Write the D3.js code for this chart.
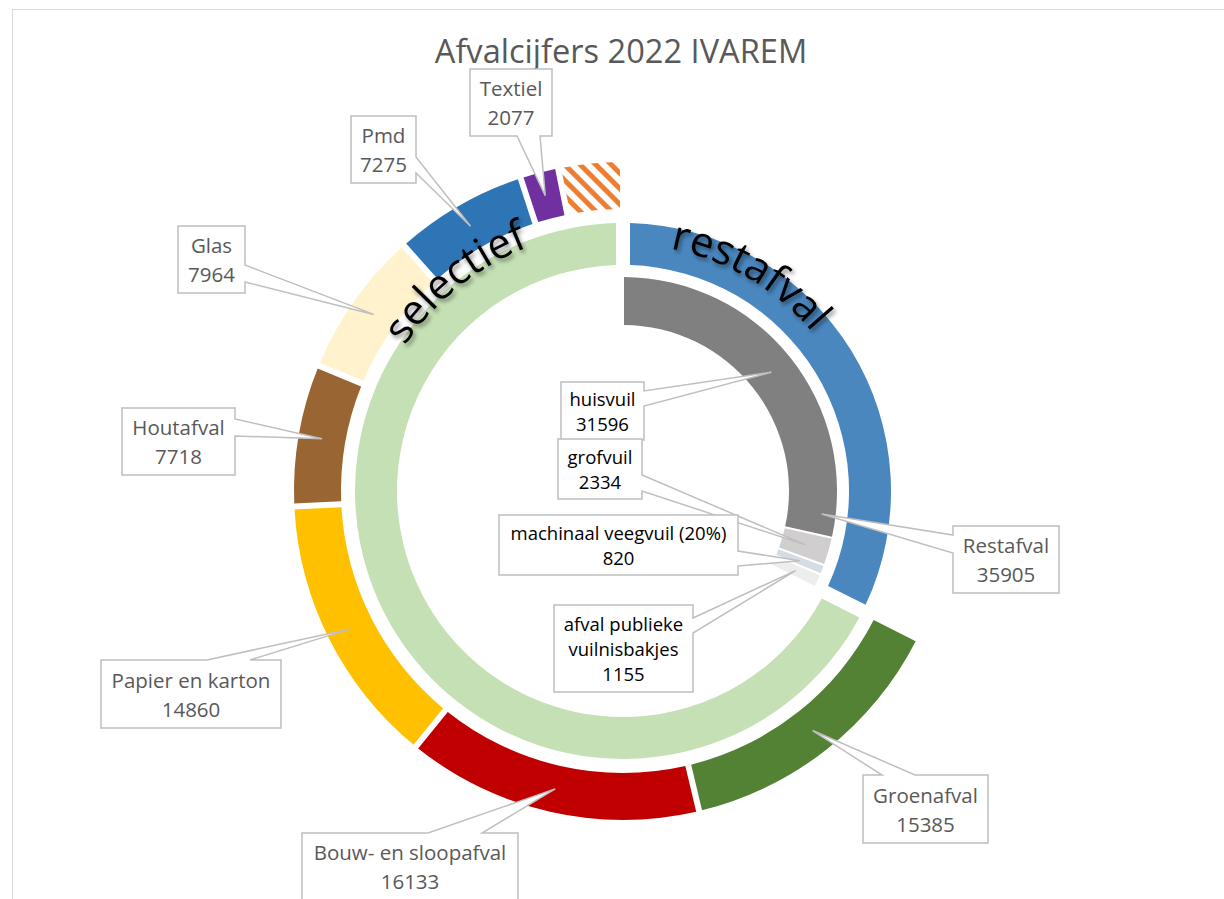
<!DOCTYPE html>
<html lang="nl">
<head>
<meta charset="UTF-8">
<title>Afvalcijfers 2022 IVAREM</title>
<script src="https://cdnjs.cloudflare.com/ajax/libs/d3/7.8.5/d3.min.js"></script>
<style>
  body { margin: 0; background: #fff; }
  svg { display: block; font-family: "Open Sans", sans-serif; }
  .callout path { fill: #fff; stroke: #BFBFBF; stroke-width: 1.5px; }
  .callout text { text-anchor: middle; }
</style>
</head>
<body>
<svg width="1224" height="899"></svg>
<script>
// outer ring: the separate fractions (restafval itself is left blank here)
const outerNames  = ["Restafval", "Groenafval", "Bouw- en sloopafval", "Papier en karton",
                     "Houtafval", "Glas", "Pmd", "Textiel", "Overige"];
const outerValues = [35905, 15385, 16133, 14860, 7718, 7964, 7275, 2077, 3500];
const outerColors = [null, "#548235", "#C00000", "#FFC000", "#996633", "#FFF2CC", "#2E75B6", "#7030A0", "hatch"];

// middle ring: restafval vs selectief
const middleNames  = ["restafval", "selectief"];
const middleValues = [35905, 74912];
const middleColors = ["#4A87BF", "#C5E0B4"];

// inner ring: split of restafval (selectief part left blank)
const innerNames  = ["huisvuil", "grofvuil", "machinaal veegvuil (20%)", "afval publieke vuilnisbakjes", "selectief"];
const innerValues = [31596, 2334, 820, 1155, 74912];
const innerColors = ["#808080", "#D0CECE", "#D6DCE5", "#EDEDED", null];

// callout boxes: [x, y, w, h], side of the wedge, wedge base along that side
const callouts = [
  { ring: "outer", name: "Textiel", box: [470, 69, 82, 67], side: "bottom", base: [517, 540] },
  { ring: "outer", name: "Pmd", box: [351, 116, 65, 67], side: "right", base: [157, 173] },
  { ring: "outer", name: "Glas", box: [178, 226, 67, 67], side: "right", base: [265, 282] },
  { ring: "outer", name: "Houtafval", box: [122, 408, 113, 67], side: "right", base: [419, 436] },
  { ring: "outer", name: "Papier en karton", box: [101, 660, 180, 68], side: "top", base: [207, 250] },
  { ring: "outer", name: "Bouw- en sloopafval", box: [302, 833, 216, 67], side: "top", base: [428, 482] },
  { ring: "outer", name: "Groenafval", box: [863, 775, 125, 68], side: "top", base: [882, 915] },
  { ring: "outer", name: "Restafval", box: [953, 526, 106, 67], side: "left", base: [535, 553], tipPolar: [96.6, 200] },
  { ring: "inner", name: "huisvuil", box: [561, 382, 83, 58], side: "right", base: [391, 406] },
  { ring: "inner", name: "grofvuil", box: [558, 439, 84, 60], side: "right", base: [475, 491] },
  { ring: "inner", name: "machinaal veegvuil (20%)", box: [499, 515, 239, 60], side: "right", base: [551, 566] },
  { ring: "inner", name: "afval publieke vuilnisbakjes", lines: ["afval publieke", "vuilnisbakjes"],
    box: [554, 605, 139, 87], side: "right", base: [618, 633] }
];

const svg = d3.select("svg");
const cx = 623, cy = 491;

// chart area border
svg.append("rect")
  .attr("x", 12.5).attr("y", 9.5).attr("width", 1300).attr("height", 1000)
  .attr("fill", "none").attr("stroke", "#D9D9D9");

const defs = svg.append("defs");
const pat = defs.append("pattern")
  .attr("id", "hatch").attr("patternUnits", "userSpaceOnUse")
  .attr("width", 11).attr("height", 11)
  .attr("patternTransform", "rotate(-45)");
pat.append("rect").attr("width", 11).attr("height", 11).attr("fill", "#fff");
pat.append("rect").attr("width", 5).attr("height", 11).attr("fill", "#ED7D31");

const shadow = defs.append("filter").attr("id", "shadow")
  .attr("x", "-20%").attr("y", "-20%").attr("width", "140%").attr("height", "140%");
shadow.append("feDropShadow")
  .attr("dx", 2).attr("dy", 3).attr("stdDeviation", 2)
  .attr("flood-color", "#000").attr("flood-opacity", 0.45);

// title
svg.append("text")
  .attr("x", 621).attr("y", 63)
  .attr("text-anchor", "middle")
  .attr("font-size", 32.6)
  .attr("fill", "#595959")
  .text("Afvalcijfers 2022 IVAREM");

const g = svg.append("g").attr("transform", `translate(${cx},${cy})`);

const pie = d3.pie().sort(null).value(d => d.value);

const rings = {
  inner:  { names: innerNames, values: innerValues, colors: innerColors, r: [166, 214], gap: 2 },
  middle: { names: middleNames, values: middleValues, colors: middleColors, r: [226, 268], gap: 14 },
  outer:  { names: outerNames, values: outerValues, colors: outerColors, r: [282, 329], gap: 6 }
};

const arcs = {};
Object.entries(rings).forEach(([key, ring]) => {
  const data = ring.names.map((n, i) => ({ name: n, value: ring.values[i], color: ring.colors[i] }));
  const padR = (ring.r[0] + ring.r[1]) / 2;
  const arc = d3.arc()
    .innerRadius(ring.r[0]).outerRadius(ring.r[1])
    .padRadius(padR).padAngle(ring.gap / padR);
  const slices = pie(data);
  arcs[key] = { arc, slices };
  g.append("g").attr("class", "ring-" + key)
    .selectAll("path")
    .data(slices.filter(d => d.data.color))
    .join("path")
    .attr("d", arc)
    .attr("fill", d => d.data.color === "hatch" ? "url(#hatch)" : d.data.color);
});

// curved WordArt-like labels
function circlePath(r) {
  return `M0,${-r}A${r},${r} 0 1 1 0,${r}A${r},${r} 0 1 1 0,${-r}`;
}
const curved = [
  { id: "arcRest", text: "restafval", r: 247, start: 11 },
  { id: "arcSel", text: "selectief", r: 262, start: 303.5 }
];
curved.forEach(c => {
  g.append("path").attr("id", c.id).attr("d", circlePath(c.r)).attr("fill", "none");
  g.append("text")
    .attr("font-size", 42)
    .attr("fill", "#000")
    .attr("filter", "url(#shadow)")
    .append("textPath")
    .attr("href", "#" + c.id)
    .attr("startOffset", c.r * c.start * Math.PI / 180)
    .text(c.text);
});

// callouts
function calloutPath(b, side, base, tip) {
  const [x, y, w, h] = b, r = x + w, bt = y + h;
  const [a, c] = base, [tx, ty] = tip;
  if (side === "top") return `M${x},${y}H${a}L${tx},${ty}L${c},${y}H${r}V${bt}H${x}Z`;
  if (side === "right") return `M${x},${y}H${r}V${a}L${tx},${ty}L${r},${c}V${bt}H${x}Z`;
  if (side === "bottom") return `M${x},${y}H${r}V${bt}H${c}L${tx},${ty}L${a},${bt}H${x}Z`;
  return `M${x},${y}H${r}V${bt}H${x}V${c}L${tx},${ty}L${x},${a}Z`;
}

const cg = svg.append("g");
callouts.forEach(co => {
  const { arc, slices } = arcs[co.ring];
  const s = slices.find(d => d.data.name === co.name);
  let tip;
  if (co.tipPolar) {
    const a = co.tipPolar[0] * Math.PI / 180;
    tip = [cx + co.tipPolar[1] * Math.sin(a), cy - co.tipPolar[1] * Math.cos(a)];
  } else {
    const c = arc.centroid(s);
    tip = [cx + c[0], cy + c[1]];
  }
  const grp = cg.append("g").attr("class", "callout");
  grp.append("path").attr("d", calloutPath(co.box, co.side, co.base, tip));
  const isOuter = co.ring === "outer";
  const fs = isOuter ? 20.5 : 18.5, lh = isOuter ? 29 : 25;
  const lines = (co.lines || [co.name]).concat([String(s.data.value)]);
  const [bx, by, bw, bh] = co.box;
  const first = by + bh / 2 - lines.length * lh / 2 + lh * 0.78;
  const t = grp.append("text")
    .attr("font-size", fs)
    .attr("fill", isOuter ? "#595959" : "#000");
  lines.forEach((ln, i) => {
    t.append("tspan").attr("x", bx + bw / 2).attr("y", first + i * lh).text(ln);
  });
});
</script>
</body>
</html>
